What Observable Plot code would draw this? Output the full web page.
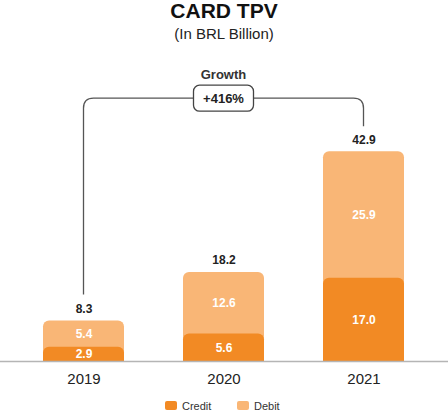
<!DOCTYPE html>
<html>
<head>
<meta charset="utf-8">
<script src="https://cdn.jsdelivr.net/npm/d3@7"></script>
<script src="https://cdn.jsdelivr.net/npm/@observablehq/plot@0.6"></script>
<style>
  body { margin: 0; background: white; font-family: "Liberation Sans", Arial, sans-serif; }
  #page { position: relative; width: 448px; height: 416px; overflow: hidden; }
  .title { position: absolute; left: 0; width: 448px; text-align: center; color: #111; }
  #chart { position: absolute; left: 0; top: 48px; }
  .sw { position: absolute; width: 12px; height: 9px; border-radius: 2px; }
  .lg { position: absolute; font-size: 11px; line-height: 11px; color: #333; }
</style>
</head>
<body>
<div id="page">
  <div class="title" style="top:0;font-size:21px;line-height:21px;font-weight:bold;">CARD TPV</div>
  <div class="title" style="top:26px;font-size:15px;line-height:15px;color:#222;">(In BRL Billion)</div>
  <div id="chart"></div>
  <div id="legend"></div>
</div>
<script>
const years = ["2019", "2020", "2021"];
const credit = [2.9, 5.6, 17.0];
const debit = [5.4, 12.6, 25.9];
const total = [8.3, 18.2, 42.9];
const growthLabel = "+416%";
const series = ["Credit", "Debit"];

const CREDIT = "#f28a24";
const DEBIT = "#f9b676";

const rows = years.map((year, i) => ({year, credit: credit[i], debit: debit[i], total: total[i]}));
const fmt = (v) => v.toFixed(1);

const chart = Plot.plot({
  width: 448,
  height: 348,
  marginTop: 44,
  marginBottom: 35,
  marginLeft: 0,
  marginRight: 0,
  style: {fontFamily: "Liberation Sans, Arial, sans-serif", fontSize: "15px", background: "white"},
  x: {domain: years, paddingInner: 0.42, paddingOuter: 0.3, label: null},
  y: {domain: [0, 55], axis: null},
  marks: [
    // debit bar drawn full height, credit bar on top of it
    Plot.barY(rows, {x: "year", y: "total", fill: DEBIT, rx: 6, insetBottom: -8, clip: true}),
    Plot.barY(rows, {x: "year", y: "credit", fill: CREDIT, rx: 6, insetBottom: -8, clip: true}),
    Plot.ruleY([0], {stroke: "#b5b5b5", strokeWidth: 1.5}),
    Plot.text(rows, {x: "year", y: (d) => d.credit / 2, text: (d) => fmt(d.credit),
      fill: "white", fontWeight: "bold", fontSize: 12}),
    Plot.text(rows, {x: "year", y: (d) => d.credit + d.debit / 2, text: (d) => fmt(d.debit),
      fill: "white", fontWeight: "bold", fontSize: 12}),
    Plot.text(rows, {x: "year", y: "total", dy: -12, text: (d) => fmt(d.total),
      fill: "#222", fontWeight: "bold", fontSize: 12}),
    Plot.axisX({tickSize: 0, tickPadding: 12, fontSize: 15, fill: "#222"})
  ]
});

d3.select("#chart").append(() => chart);

// growth bracket from the first to the last bar, placed with the plot's scales
const xs = chart.scale("x");
const ys = chart.scale("y");
const cx = (i) => xs.apply(years[i]) + xs.bandwidth / 2;
const n = years.length - 1;
const x0 = cx(0), x1 = cx(n), xm = cx(1);
const yTop = ys.apply(d3.max(total)) - 53;
const yL = ys.apply(total[0]) - 26;
const yR = ys.apply(total[n]) - 25;
const r = 10, bw = 60, bh = 26;

const svg = d3.select(chart);
const g = svg.append("g").attr("fill", "none").attr("stroke", "#555").attr("stroke-width", 1.3);
g.append("path").attr("d",
  `M${x0},${yL} V${yTop + r} Q${x0},${yTop} ${x0 + r},${yTop} H${xm - bw / 2}`);
g.append("path").attr("d",
  `M${xm + bw / 2},${yTop} H${x1 - r} Q${x1},${yTop} ${x1},${yTop + r} V${yR}`);
g.append("rect")
  .attr("x", xm - bw / 2).attr("y", yTop - bh / 2)
  .attr("width", bw).attr("height", bh)
  .attr("rx", 6).attr("fill", "white").attr("stroke", "#444");

svg.append("text")
  .attr("x", xm).attr("y", yTop).attr("dy", "0.35em")
  .attr("text-anchor", "middle").attr("font-size", 13).attr("font-weight", "bold")
  .attr("fill", "#222").text(growthLabel);
svg.append("text")
  .attr("x", xm).attr("y", yTop - 24).attr("dy", "0.35em")
  .attr("text-anchor", "middle").attr("font-size", 13).attr("font-weight", "bold")
  .attr("fill", "#333").text("Growth");

// legend
const legend = d3.select("#legend");
const lx = [165, 237];
series.forEach((s, i) => {
  legend.append("div").attr("class", "sw")
    .style("left", lx[i] + "px").style("top", "401px")
    .style("background", i === 0 ? CREDIT : DEBIT);
  legend.append("div").attr("class", "lg")
    .style("left", lx[i] + 17 + "px").style("top", "400.5px")
    .text(s);
});
</script>
</body>
</html>
